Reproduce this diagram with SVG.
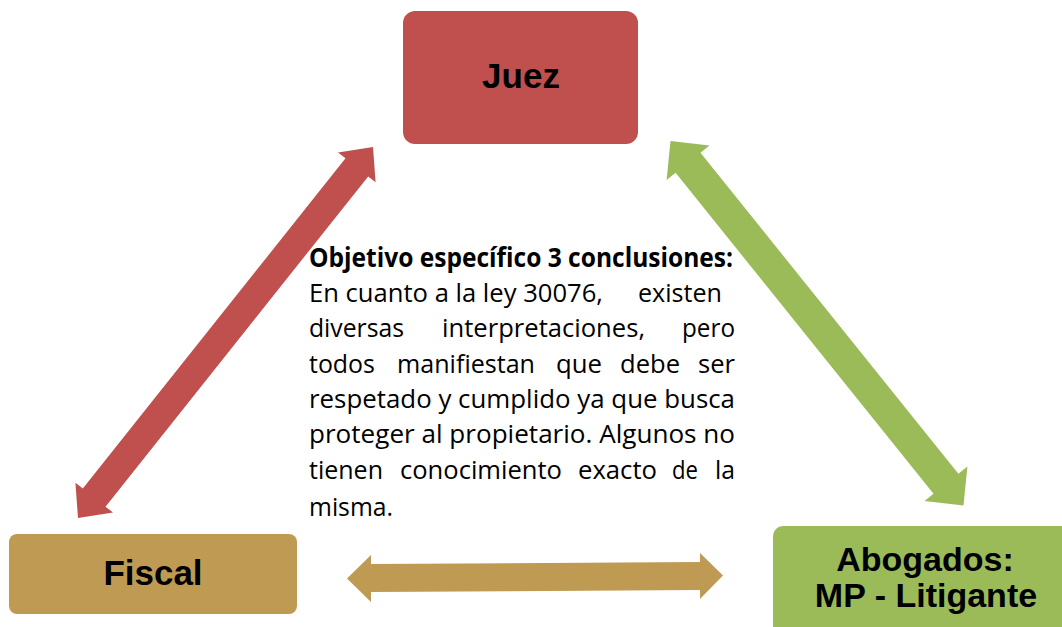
<svg xmlns="http://www.w3.org/2000/svg" width="1062" height="627" viewBox="0 0 1062 627">
<style>
.lbl{font-family:"Liberation Sans",Arial,sans-serif;font-weight:bold;font-size:35px;fill:#000;text-anchor:middle}
.lbl2{font-size:34px}
.body{font-family:"Open Sans","Noto Sans",sans-serif;font-size:26px;fill:#000}
.bold{font-weight:bold}
</style>
<rect width="1062" height="627" fill="#fff"/>
<g id="connectors">
<polygon id="arrow-juez-fiscal" fill="#C0504D" points="373,147 375.6,182.3 368.2,176.4 105.5,506.7 113,512.6 78,518 75.4,482.7 82.8,488.6 345.5,158.3 338,152.4"/>
<polygon id="arrow-juez-abogados" fill="#9BBB59" points="670.5,141 709.5,145.6 700.5,152.8 958.4,473.7 967.4,466.5 963.5,505.5 924.5,500.9 933.5,493.7 675.6,172.8 666.6,180.1"/>
<polygon id="arrow-fiscal-abogados" fill="#BF9A53" points="347,578.5 371,555 371,564 700,562 700,553 723,575.5 700,599 700,590 371,592 371,602"/>
</g>
<g id="node-juez">
<rect x="403" y="11" width="235" height="133" rx="12" fill="#C0504D"/>
<text class="lbl" x="521" y="88">Juez</text>
</g>
<g id="node-fiscal">
<rect x="9" y="534" width="288" height="80" rx="8" fill="#BF9A53"/>
<text class="lbl" x="153" y="585">Fiscal</text>
</g>
<g id="node-abogados">
<rect x="773" y="526" width="304" height="112" rx="10" fill="#9BBB59"/>
<text class="lbl lbl2" x="925" y="571">Abogados:</text>
<text class="lbl lbl2" x="926" y="607">MP - Litigante</text>
</g>
<g id="text-conclusiones">
<text class="body bold" x="309" y="267" textLength="424" lengthAdjust="spacingAndGlyphs">Objetivo específico 3 conclusiones:</text>
<text class="body" y="302"><tspan x="309" textLength="294" lengthAdjust="spacingAndGlyphs">En cuanto a la ley 30076,</tspan><tspan x="638" textLength="84" lengthAdjust="spacingAndGlyphs">existen</tspan></text>
<text class="body" y="337"><tspan x="309" textLength="95" lengthAdjust="spacingAndGlyphs">diversas</tspan><tspan x="442" textLength="203" lengthAdjust="spacingAndGlyphs">interpretaciones,</tspan><tspan x="682" textLength="53" lengthAdjust="spacingAndGlyphs">pero</tspan></text>
<text class="body" y="373"><tspan x="309" textLength="66" lengthAdjust="spacingAndGlyphs">todos</tspan><tspan x="397" textLength="138" lengthAdjust="spacingAndGlyphs">manifiestan</tspan><tspan x="556" textLength="46" lengthAdjust="spacingAndGlyphs">que</tspan><tspan x="620" textLength="60" lengthAdjust="spacingAndGlyphs">debe</tspan><tspan x="698" textLength="37" lengthAdjust="spacingAndGlyphs">ser</tspan></text>
<text class="body" x="309" y="408" textLength="426" lengthAdjust="spacingAndGlyphs">respetado y cumplido ya que busca</text>
<text class="body" x="309" y="443" textLength="426" lengthAdjust="spacingAndGlyphs">proteger al propietario. Algunos no</text>
<text class="body" y="479"><tspan x="309" textLength="74" lengthAdjust="spacingAndGlyphs">tienen</tspan><tspan x="400" textLength="162" lengthAdjust="spacingAndGlyphs">conocimiento</tspan><tspan x="578" textLength="79" lengthAdjust="spacingAndGlyphs">exacto</tspan><tspan x="672" textLength="26" lengthAdjust="spacingAndGlyphs">de</tspan><tspan x="715" textLength="20" lengthAdjust="spacingAndGlyphs">la</tspan></text>
<text class="body" x="309" y="516" textLength="84" lengthAdjust="spacingAndGlyphs">misma.</text>
</g>
</svg>
